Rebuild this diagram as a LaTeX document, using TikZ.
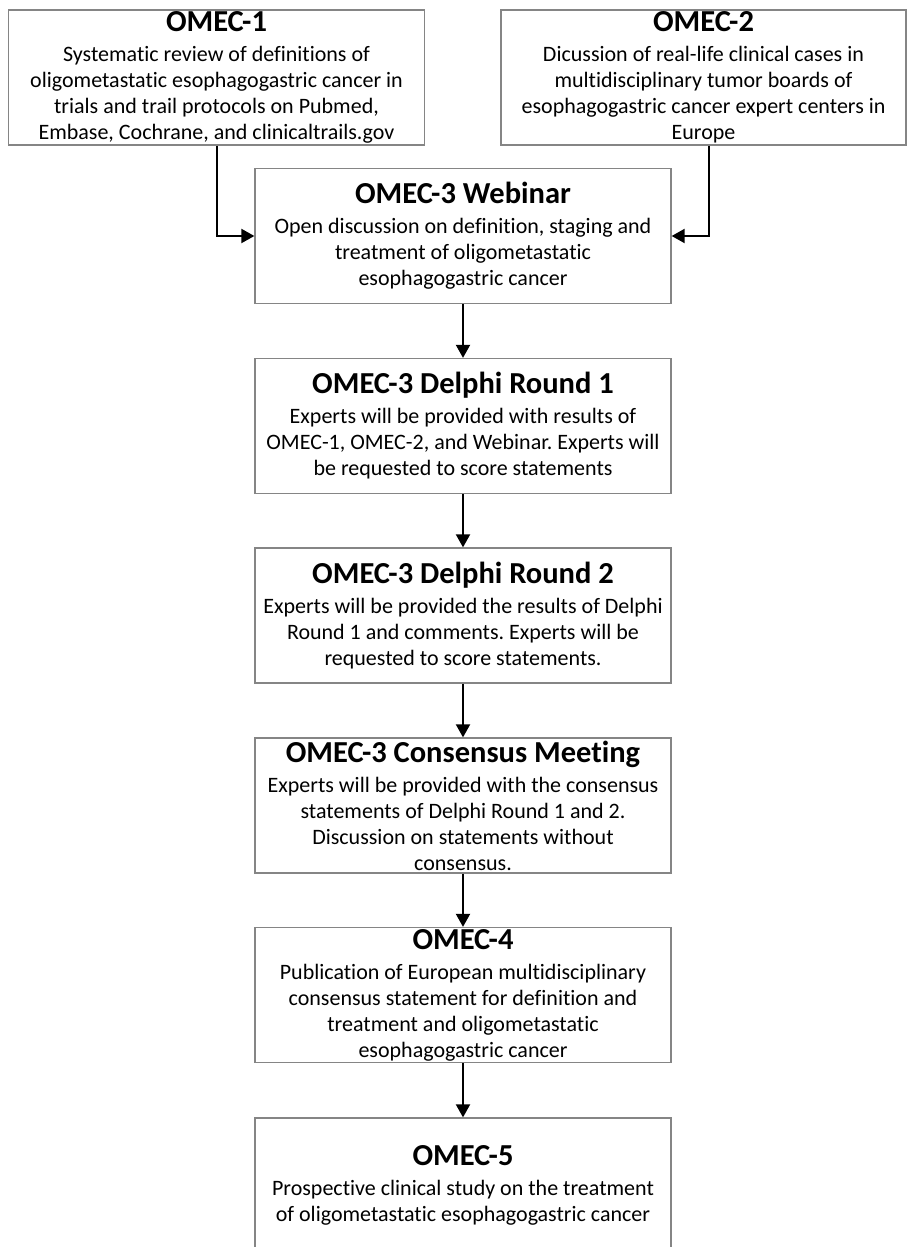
\documentclass[tikz,border=0pt]{standalone}
\usepackage{fontspec}
\setmainfont{Carlito}[Ligatures=NoCommon]
\usepackage{tikz}
\usetikzlibrary{arrows.meta}
\definecolor{box_gray}{HTML}{858585}
\frenchspacing
\newcommand{\omectitle}[1]{{\fontsize{30.5}{34}\selectfont\bfseries #1}\\[4pt]}
\tikzset{
    omecbox/.style={draw=box_gray, line width=1.3pt, minimum width=416pt, minimum height=135pt, inner sep=0pt, align=center, font=\fontsize{22}{26}\selectfont},
    omecarrow/.style={line width=2pt, -{Triangle[width=14pt,length=13pt]}}
}
\begin{document}
\begin{tikzpicture}[x=1pt, y=-1pt]
    \clip (0,0) rectangle (907,1247);
    \fill[white] (0,0) rectangle (907,1247);
    \node[omecbox] (omec1) at (216.5,77.5) {\omectitle{OMEC-1}Systematic review of definitions of\\oligometastatic esophagogastric cancer in\\trials and trail protocols on Pubmed,\\Embase, Cochrane, and clinicaltrails.gov};
    \node[omecbox, minimum width=405pt] (omec2) at (703.5,77.5) {\omectitle{OMEC-2}Dicussion of real-life clinical cases in\\multidisciplinary tumor boards of\\esophagogastric cancer expert centers in\\Europe};
    \node[omecbox] (webinar) at (463,236) {\omectitle{OMEC-3 Webinar}Open discussion on definition, staging and\\treatment of oligometastatic\\esophagogastric cancer};
    \node[omecbox] (delphi1) at (463,426) {\omectitle{OMEC-3 Delphi Round 1}Experts will be provided with results of\\OMEC-1, OMEC-2, and Webinar. Experts will\\be requested to score statements};
    \node[omecbox] (delphi2) at (463,615.5) {\omectitle{OMEC-3 Delphi Round 2}Experts will be provided the results of Delphi\\Round 1 and comments. Experts will be\\requested to score statements.};
    \node[omecbox] (consensus) at (463,805.5) {\omectitle{OMEC-3 Consensus Meeting}Experts will be provided with the consensus\\statements of Delphi Round 1 and 2.\\Discussion on statements without\\consensus.};
    \node[omecbox] (omec4) at (463,995) {\omectitle{OMEC-4}Publication of European multidisciplinary\\consensus statement for definition and\\treatment and oligometastatic\\esophagogastric cancer};
    \node[omecbox] (omec5) at (463,1185.5) {\omectitle{OMEC-5}Prospective clinical study on the treatment\\of oligometastatic esophagogastric cancer};
    \draw[omecarrow] (omec1.south) |- (webinar.west);
    \draw[omecarrow] ([xshift=5.5pt]omec2.south) |- (webinar.east);
    \draw[omecarrow] (webinar) -- (delphi1);
    \draw[omecarrow] (delphi1) -- (delphi2);
    \draw[omecarrow] (delphi2) -- (consensus);
    \draw[omecarrow] (consensus) -- (omec4);
    \draw[omecarrow] (omec4) -- (omec5);
\end{tikzpicture}
\end{document}
